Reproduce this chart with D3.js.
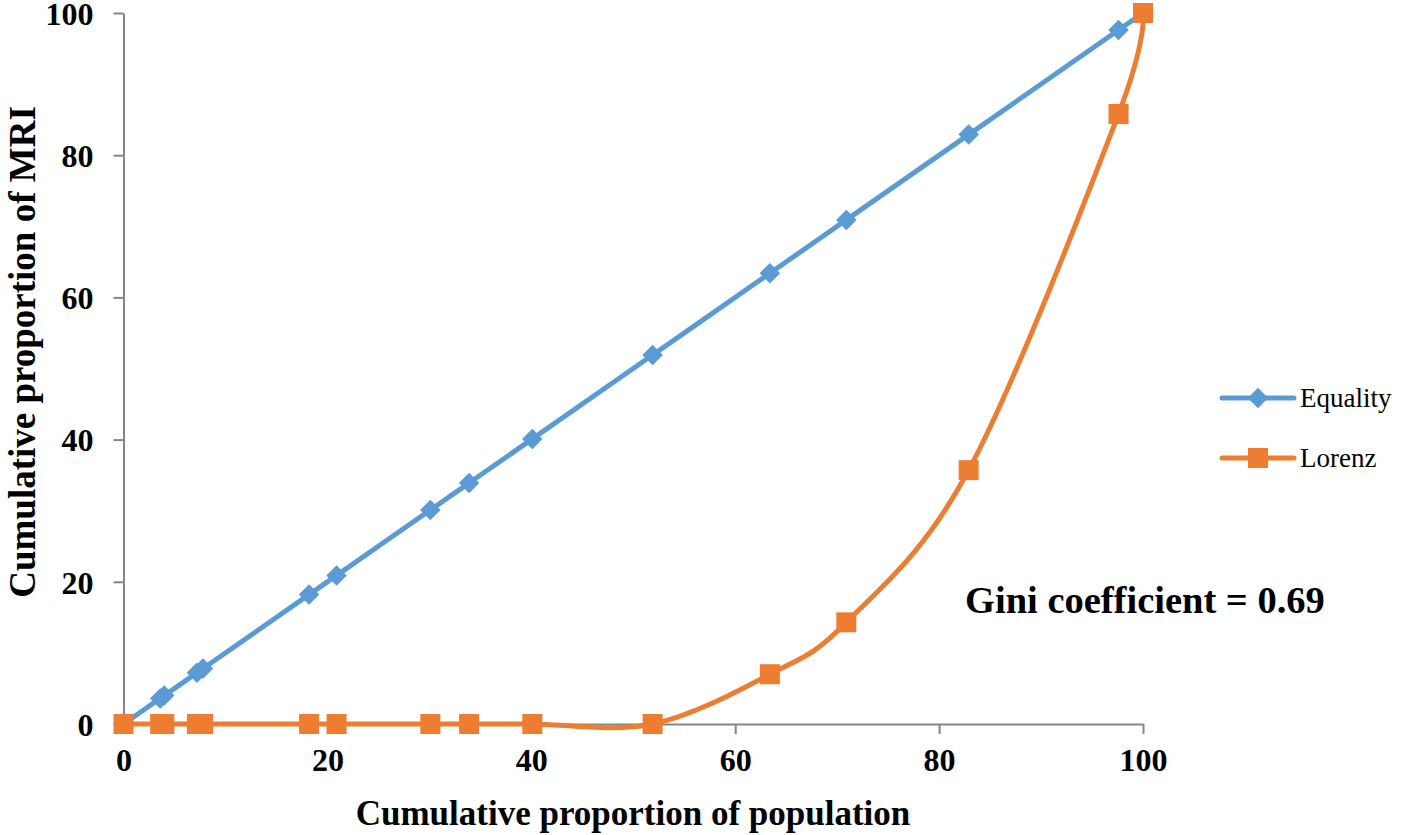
<!DOCTYPE html>
<html><head><meta charset="utf-8">
<script src="https://cdn.jsdelivr.net/npm/d3@7"></script>
<style>body{margin:0;background:#fff}svg{display:block}</style>
</head><body>
<script>
const popX = [0, 3.6, 4.0, 7.2, 7.8, 18.2, 20.9, 30.1, 33.9, 40.1, 51.9, 63.4, 70.9, 82.9, 97.6, 100];
const equality = [0, 3.6, 4.0, 7.2, 7.8, 18.2, 20.9, 30.1, 33.9, 40.1, 51.9, 63.4, 70.9, 82.9, 97.6, 100];
const lorenz = [0, 0, 0, 0, 0, 0, 0, 0, 0, 0, 0, 7.0, 14.3, 35.7, 85.8, 100];
const ticks = [0, 20, 40, 60, 80, 100];
const seriesNames = ["Equality", "Lorenz"];
const giniLabel = "Gini coefficient = 0.69";

const W = 1418, H = 835;
const svg = d3.select("body").append("svg").attr("width", W).attr("height", H);
const x = d3.scaleLinear().domain([0, 100]).range([123.5, 1143]);
const y = d3.scaleLinear().domain([0, 100]).range([724, 13]);
const font = "'Liberation Serif','Times New Roman',serif";
const blue = "#5B9BD5", orange = "#ED7D31", axisCol = "#868686";

const xAxis = svg.append("g").attr("transform", `translate(0,${y(0)})`)
  .call(d3.axisBottom(x).tickValues(ticks).tickSize(10).tickSizeOuter(0).tickPadding(14));
const yAxis = svg.append("g").attr("transform", `translate(${x(0)},0)`)
  .call(d3.axisLeft(y).tickValues(ticks).tickSize(10).tickSizeOuter(0).tickPadding(20));
[xAxis, yAxis].forEach(g => {
  g.selectAll("path,line").attr("stroke", axisCol).attr("stroke-width", 2);
  g.selectAll("text").attr("font-family", font).attr("font-weight", "bold")
    .attr("font-size", 32).attr("fill", "#000");
});
yAxis.selectAll("text").attr("dy", "0.35em");
xAxis.selectAll("text").attr("dy", "0.71em");

const curve = d3.curveCardinal.tension(0);
const eqData = popX.map((v, i) => [v, equality[i]]);
const loData = popX.map((v, i) => [v, lorenz[i]]);
const line = d3.line().x(d => x(d[0])).y(d => y(d[1])).curve(curve);

svg.append("path").attr("d", line(eqData)).attr("fill", "none").attr("stroke", blue).attr("stroke-width", 5);
svg.append("path").attr("d", line(loData)).attr("fill", "none").attr("stroke", orange).attr("stroke-width", 5);

const diamond = d3.symbol().type(d3.symbolSquare).size(210);
svg.append("g").selectAll("path").data(eqData).join("path")
  .attr("d", diamond).attr("fill", blue)
  .attr("transform", d => `translate(${x(d[0])},${y(d[1])}) rotate(45)`);
svg.append("g").selectAll("rect").data(loData).join("rect")
  .attr("x", d => x(d[0]) - 10).attr("y", d => y(d[1]) - 10)
  .attr("width", 20).attr("height", 20).attr("fill", orange);

// legend
const leg = svg.append("g");
const legY = [398, 458];
[blue, orange].forEach((c, i) => {
  const g = leg.append("g").attr("transform", `translate(0,${legY[i]})`);
  g.append("line").attr("x1", 1222).attr("x2", 1294).attr("stroke", c).attr("stroke-width", 5).attr("stroke-linecap", "round");
  if (i === 0) g.append("path").attr("d", diamond).attr("fill", c).attr("transform", "translate(1258,0) rotate(45)");
  else g.append("rect").attr("x", 1248).attr("y", -10).attr("width", 20).attr("height", 20).attr("fill", c);
  g.append("text").attr("x", 1300).attr("dy", "0.35em").attr("font-family", font)
    .attr("font-size", 27).attr("fill", "#000").text(seriesNames[i]);
});

svg.append("text").attr("x", 965).attr("y", 613).attr("font-family", font).attr("font-weight", "bold")
  .attr("font-size", 38.5).attr("fill", "#000").text(giniLabel);

svg.append("text").attr("x", 633).attr("y", 825).attr("text-anchor", "middle").attr("font-family", font)
  .attr("font-weight", "bold").attr("font-size", 35).attr("fill", "#000").text("Cumulative proportion of population");
svg.append("text").attr("transform", "translate(35,352) rotate(-90)").attr("text-anchor", "middle").attr("font-family", font)
  .attr("font-weight", "bold").attr("font-size", 37).attr("fill", "#000").text("Cumulative proportion of MRI");
</script>
</body></html>
